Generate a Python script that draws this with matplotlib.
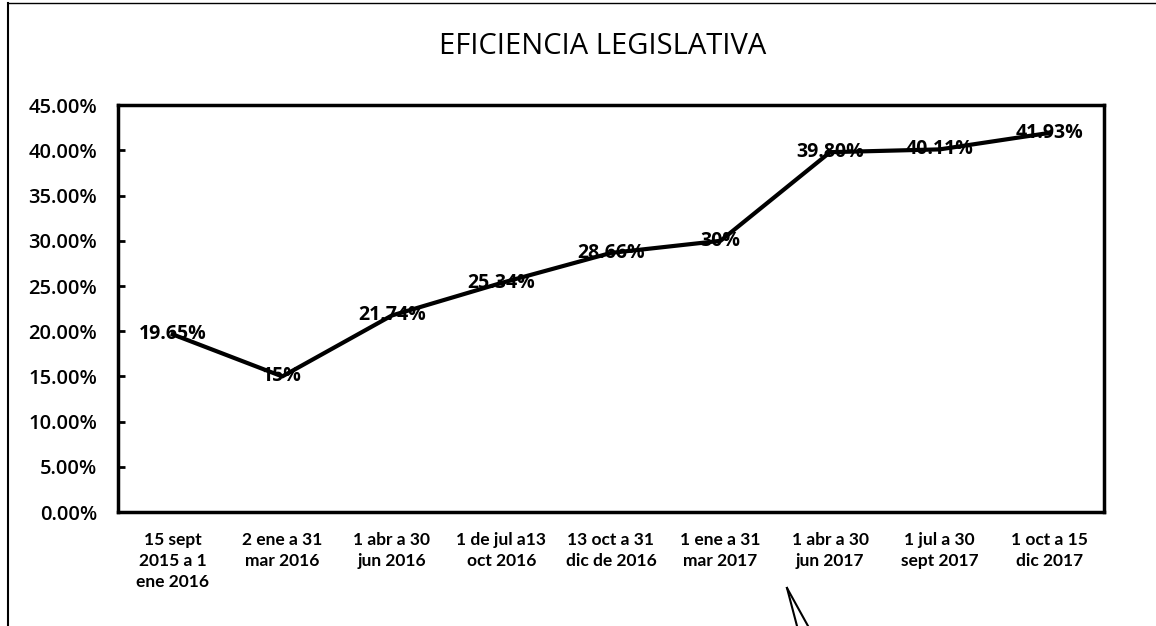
import matplotlib
matplotlib.use("Agg")
import matplotlib.pyplot as plt
from matplotlib.ticker import FuncFormatter

plt.rcParams['font.family'] = ['Open Sans', 'DejaVu Sans']

# periodos y eficiencia (%)
periodos = [
    "15 sept\n2015 a 1\nene 2016",
    "2 ene a 31\nmar 2016",
    "1 abr a 30\njun 2016",
    "1 de jul a13\noct 2016",
    "13 oct a 31\ndic de 2016",
    "1 ene a 31\nmar 2017",
    "1 abr a 30\njun 2017",
    "1 jul a 30\nsept 2017",
    "1 oct a 15\ndic 2017",
]
eficiencia = [19.65, 15, 21.74, 25.34, 28.66, 30, 39.80, 40.11, 41.93]
etiquetas = ["19.65%", "15%", "21.74%", "25.34%", "28.66%", "30%", "39.80%", "40.11%", "41.93%"]

fig = plt.figure(figsize=(11.56, 6.26), dpi=100)
ax = fig.add_axes([0.102, 0.182, 0.853, 0.650])

x = list(range(len(periodos)))
ax.plot(x, eficiencia, color="black", linewidth=3, solid_joinstyle="round")

# etiquetas de datos centradas sobre el punto
for xi, yi, t in zip(x, eficiencia, etiquetas):
    ax.text(xi, yi, t, ha="center", va="center", fontsize=14,
            fontweight="bold", color="black")

ax.set_xlim(-0.5, len(periodos) - 0.5)
ax.set_ylim(0, 45)
ax.set_yticks([i * 5 for i in range(10)])
ax.yaxis.set_major_formatter(FuncFormatter(lambda v, p: f"{v:.2f}%"))
ax.set_xticks(x)
ax.set_xticklabels(periodos, fontsize=12.5, fontweight="bold", linespacing=1.4,
                   family=['Lato', 'DejaVu Sans'])
ax.tick_params(axis="x", length=0, pad=14)
ax.tick_params(axis="y", labelsize=14.5, length=5, width=2, direction="in", pad=15)
for lbl in ax.get_yticklabels():
    lbl.set_fontweight("semibold")

for s in ax.spines.values():
    s.set_linewidth(2.5)
    s.set_color("black")

fig.text(0.521, 0.925, "EFICIENCIA LEGISLATIVA", ha="center", va="center", fontsize=21)

# borde del recuadro escaneado y trazo de llamada
fig.add_artist(plt.Line2D([0.007, 0.007], [0, 0.995], color="black", linewidth=1.5))
fig.add_artist(plt.Line2D([0.007, 1.0], [0.995, 0.995], color="black", linewidth=1))
fig.add_artist(plt.Line2D([787 / 1156, 797 / 1156], [1 - 588 / 626, 0], color="black", linewidth=1.5))
fig.add_artist(plt.Line2D([787 / 1156, 808 / 1156], [1 - 588 / 626, 0], color="black", linewidth=1.5))

fig.savefig("out.png", dpi=100)
